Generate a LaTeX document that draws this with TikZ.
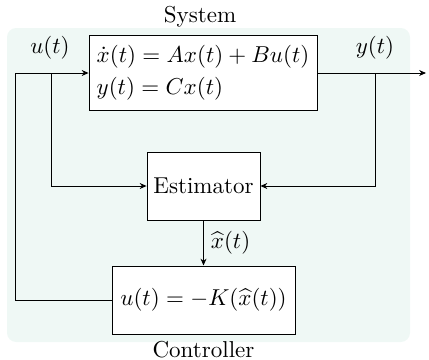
\documentclass[tikz,border=0pt]{standalone}
\usetikzlibrary{arrows.meta}
\definecolor{bgc}{RGB}{239,248,245}
\begin{document}
\begin{tikzpicture}[x=0.4348pt,y=-0.4348pt,
  blk/.style={draw, line width=0.4pt, fill=white, inner sep=2pt},
  conn/.style={line width=0.4pt},
  arr/.style={line width=0.4pt, -{Stealth[length=3pt,width=2.6pt]}}]
\useasboundingbox (0,0) rectangle (429,359);
\fill[bgc, rounded corners=4pt] (7,28) rectangle (410,342);
\node[blk, minimum width=99.1pt, minimum height=32.6pt, align=left] (sys) at (203,72.5)
  {$\dot{x}(t) = Ax(t) + Bu(t)$\\[2pt] $y(t) = Cx(t)$};
\node[blk, minimum width=49.1pt, minimum height=29.6pt] (est) at (203.5,186) {Estimator};
\node[blk, minimum width=79.6pt, minimum height=29.6pt] (ctl) at (203.5,300) {$u(t) = -K(\widehat{x}(t))$};
\node (syslbl) at (200,17) {System};
\node (ctllbl) at (203.5,350) {Controller};
\node (ulbl) at (50,48) {$u(t)$};
\node (ylbl) at (375,48) {$y(t)$};
\coordinate (lft) at (15,73);
\coordinate (ub) at (51,73);
\coordinate (yb) at (375,73);
\coordinate (out) at (426,73);
\draw[arr] (ctl.west) -| (lft) -- (lft -| sys.west);
\draw[conn] (sys.east |- yb) -- (yb);
\draw[arr] (yb) -- (out);
\draw[arr] (ub) |- (est.west);
\draw[arr] (yb) |- (est.east);
\draw[arr] (est.south) -- node[right, inner sep=3pt] (xh) {$\widehat{x}(t)$} (ctl.north);
\end{tikzpicture}
\end{document}
